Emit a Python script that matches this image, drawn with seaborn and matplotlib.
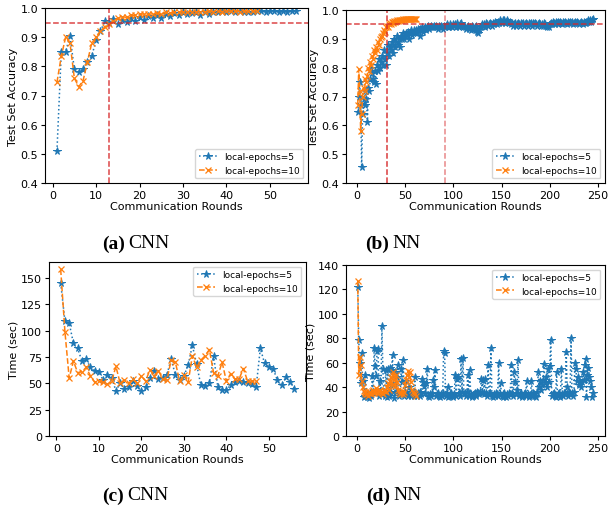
import matplotlib
matplotlib.use("Agg")
import matplotlib.pyplot as plt
import seaborn as sns

plt.rcParams['font.family'] = 'DejaVu Sans'
plt.rcParams['font.size'] = 8

BLUE = '#1f77b4'
ORANGE = '#ff7f0e'
RED = '#d62728'

# ---- (a) CNN accuracy ----
cnn_acc_e5 = [0.51, 0.85, 0.85, 0.905, 0.79, 0.78, 0.79, 0.815, 0.835, 0.89,
              0.92, 0.955, 0.95, 0.962, 0.945, 0.96, 0.953, 0.965, 0.956, 0.97,
              0.958, 0.972, 0.965, 0.975, 0.967, 0.978, 0.972, 0.982, 0.976, 0.985,
              0.98, 0.982, 0.985, 0.975, 0.985, 0.98, 0.987, 0.985, 0.99, 0.988,
              0.99, 0.985, 0.99, 0.985, 0.988, 0.985, 0.99, 0.99, 0.985, 0.99,
              0.99, 0.987, 0.99, 0.988, 0.99, 0.99]
cnn_acc_e10 = [0.745, 0.835, 0.90, 0.88, 0.76, 0.73, 0.75, 0.815, 0.88, 0.90,
               0.92, 0.935, 0.945, 0.955, 0.965, 0.97, 0.968, 0.975, 0.975, 0.978,
               0.98, 0.978, 0.98, 0.982, 0.98, 0.985, 0.983, 0.985, 0.985, 0.987,
               0.986, 0.988, 0.987, 0.988, 0.987, 0.989, 0.988, 0.99, 0.988, 0.99,
               0.989, 0.99, 0.988, 0.99, 0.989, 0.99, 0.99]

# ---- (b) NN accuracy ----
nn_acc_e5 = [0.645, 0.70, 0.75, 0.67, 0.455, 0.64, 0.69, 0.67, 0.72, 0.69,
             0.61, 0.73, 0.72, 0.76, 0.80, 0.78, 0.76, 0.75, 0.79, 0.745,
             0.81, 0.79, 0.83, 0.80, 0.82, 0.84, 0.81, 0.86, 0.83, 0.81,
             0.85, 0.88, 0.84, 0.87, 0.86, 0.89, 0.85, 0.88, 0.90, 0.87,
             0.89, 0.91, 0.88, 0.90, 0.87, 0.91, 0.90, 0.92, 0.90, 0.91,
             0.92, 0.91, 0.925, 0.90, 0.92, 0.93, 0.915, 0.92, 0.93, 0.925,
             0.93, 0.92, 0.935, 0.93, 0.91, 0.935, 0.93, 0.94, 0.925, 0.935,
             0.94, 0.93, 0.94, 0.945, 0.935, 0.94, 0.945, 0.94, 0.94, 0.945,
             0.94, 0.945, 0.94, 0.935, 0.945, 0.94, 0.945, 0.94, 0.935, 0.945,
             0.94, 0.945, 0.95, 0.94, 0.945, 0.94, 0.95, 0.945, 0.94, 0.95,
             0.945, 0.95, 0.94, 0.955, 0.945, 0.94, 0.95, 0.955, 0.945, 0.94,
             0.945, 0.94, 0.935, 0.94, 0.945, 0.935, 0.94, 0.93, 0.945, 0.94,
             0.935, 0.94, 0.945, 0.93, 0.925, 0.92, 0.93, 0.94, 0.945, 0.95,
             0.945, 0.95, 0.94, 0.955, 0.95, 0.945, 0.95, 0.955, 0.95, 0.945,
             0.955, 0.95, 0.96, 0.955, 0.95, 0.96, 0.955, 0.965, 0.96, 0.955,
             0.965, 0.96, 0.965, 0.955, 0.96, 0.965, 0.96, 0.955, 0.96, 0.95,
             0.955, 0.945, 0.95, 0.955, 0.945, 0.95, 0.955, 0.95, 0.945, 0.955,
             0.95, 0.955, 0.945, 0.95, 0.955, 0.95, 0.945, 0.955, 0.95, 0.955,
             0.95, 0.945, 0.955, 0.95, 0.955, 0.95, 0.945, 0.95, 0.955, 0.95,
             0.945, 0.95, 0.945, 0.955, 0.95, 0.945, 0.94, 0.945, 0.94, 0.95,
             0.955, 0.95, 0.96, 0.955, 0.95, 0.96, 0.955, 0.96, 0.95, 0.955,
             0.96, 0.955, 0.95, 0.96, 0.955, 0.96, 0.955, 0.95, 0.96, 0.955,
             0.96, 0.955, 0.96, 0.95, 0.955, 0.96, 0.955, 0.96, 0.955, 0.95,
             0.955, 0.96, 0.955, 0.95, 0.96, 0.955, 0.96, 0.955, 0.96, 0.965,
             0.96, 0.965, 0.96, 0.965, 0.97]
nn_acc_e10 = [0.67, 0.795, 0.72, 0.58, 0.64, 0.70, 0.73, 0.72, 0.76, 0.75,
              0.77, 0.80, 0.79, 0.82, 0.81, 0.84, 0.83, 0.86, 0.85, 0.87,
              0.86, 0.89, 0.88, 0.90, 0.905, 0.91, 0.92, 0.93, 0.925, 0.94,
              0.945, 0.94, 0.95, 0.955, 0.95, 0.96, 0.955, 0.96, 0.962, 0.96,
              0.963, 0.965, 0.962, 0.966, 0.965, 0.967, 0.966, 0.968, 0.967, 0.968,
              0.969, 0.968, 0.97, 0.969, 0.97, 0.969, 0.97, 0.97, 0.969, 0.97, 0.97]

# ---- (c) CNN time ----
cnn_time_e5 = [145, 109, 107, 88, 83, 71, 73, 65, 62, 61,
               53, 58, 55, 43, 50, 45, 46, 52, 47, 43,
               46, 55, 62, 54, 55, 58, 73, 58, 53, 57,
               67, 86, 68, 48, 47, 50, 76, 46, 44, 44,
               48, 51, 52, 51, 50, 49, 46, 83, 69, 65,
               64, 53, 48, 56, 51, 45]
cnn_time_e10 = [158, 99, 55, 71, 60, 61, 65, 57, 51, 52,
                51, 49, 52, 66, 50, 53, 50, 54, 50, 57,
                52, 63, 57, 62, 54, 53, 72, 70, 52, 58,
                51, 76, 65, 72, 76, 82, 60, 57, 70, 52,
                59, 54, 54, 64, 52, 52, 52]

# ---- (d) NN time ----
nn_time_e5 = [122, 79, 60, 43, 68, 45, 32, 33, 50, 33,
              32, 34, 31, 35, 33, 49, 36, 72, 57, 49,
              70, 71, 33, 45, 34, 90, 55, 36, 33, 54,
              32, 55, 33, 56, 35, 54, 66, 42, 31, 52,
              36, 48, 58, 33, 34, 55, 44, 62, 33, 36,
              45, 34, 33, 40, 35, 33, 34, 36, 33, 48,
              34, 33, 35, 34, 36, 33, 34, 47, 44, 41,
              35, 43, 55, 33, 32, 34, 33, 35, 46, 40,
              54, 33, 34, 35, 33, 32, 34, 33, 35, 70,
              68, 33, 34, 40, 32, 33, 34, 35, 33, 32,
              34, 50, 33, 47, 48, 35, 33, 63, 36, 64,
              34, 35, 33, 36, 50, 33, 54, 34, 32, 33,
              34, 35, 33, 34, 36, 35, 34, 36, 47, 35,
              46, 34, 47, 35, 33, 58, 34, 35, 72, 33,
              32, 34, 33, 35, 34, 33, 60, 34, 43, 33,
              32, 34, 35, 33, 32, 34, 33, 35, 34, 58,
              35, 33, 52, 44, 34, 38, 62, 33, 34, 35,
              32, 33, 34, 35, 33, 45, 34, 32, 33, 34,
              45, 33, 35, 34, 33, 32, 36, 52, 40, 45,
              38, 42, 46, 59, 43, 48, 40, 55, 44, 57,
              79, 33, 34, 35, 33, 32, 52, 34, 33, 35,
              32, 55, 34, 33, 35, 34, 69, 40, 33, 36,
              34, 80, 35, 33, 36, 60, 55, 45, 48, 42,
              44, 40, 44, 52, 46, 58, 63, 32, 50, 56,
              48, 45, 40, 32, 35]
nn_time_e10 = [127, 50, 65, 58, 45, 40, 37, 35, 36, 34,
               34, 33, 35, 36, 34, 37, 38, 35, 36, 39,
               36, 35, 37, 38, 36, 35, 34, 37, 38, 36,
               40, 43, 38, 45, 48, 42, 50, 52, 46, 41,
               50, 44, 38, 36, 34, 35, 37, 34, 36, 42,
               46, 50, 53, 48, 52, 44, 38, 36, 35, 34, 33]

LABEL5 = 'local-epochs=5'
LABEL10 = 'local-epochs=10'

W, H = 610, 510
fig = plt.figure(figsize=(W / 100, H / 100), dpi=100)


def make_ax(l, t, r, b):
    return fig.add_axes([l / W, 1 - b / H, (r - l) / W, (b - t) / H])


def draw(ax, y5, y10):
    sns.lineplot(x=list(range(1, len(y5) + 1)), y=y5, ax=ax, color=BLUE,
                 linestyle=':', marker='*', markersize=5.5, mec=BLUE, mew=0.7,
                 lw=1.1, label=LABEL5)
    sns.lineplot(x=list(range(1, len(y10) + 1)), y=y10, ax=ax, color=ORANGE,
                 linestyle='--', marker='x', markersize=4.5, mec=ORANGE, mew=0.9,
                 lw=1.1, label=LABEL10)
    ax.set_xlabel('Communication Rounds', fontsize=8, labelpad=1)
    ax.tick_params(labelsize=8, length=3, pad=2)


ax_a = make_ax(45, 9, 308, 184)
draw(ax_a, cnn_acc_e5, cnn_acc_e10)
ax_a.axhline(0.95, color=RED, ls='--', lw=1.1, alpha=0.85)
ax_a.axvline(13, color=RED, ls='--', lw=1.1, alpha=0.85)
ax_a.set_ylim(0.4, 1.0)
ax_a.set_xticks(range(0, 51, 10))
ax_a.set_ylabel('Test Set Accuracy', fontsize=8, labelpad=2)
ax_a.legend(loc='lower right', fontsize=6.5)

ax_b = make_ax(346, 11, 605, 184)
draw(ax_b, nn_acc_e5, nn_acc_e10)
ax_b.axhline(0.95, color=RED, ls='--', lw=1.1, alpha=0.85)
ax_b.axvline(31, color=RED, ls='--', lw=1.1, alpha=0.9)
ax_b.axvline(91, color=RED, ls='--', lw=1.1, alpha=0.55)
ax_b.set_ylim(0.4, 1.0)
ax_b.set_xticks(range(0, 251, 50))
ax_b.set_ylabel('Test Set Accuracy', fontsize=8, labelpad=2)
ax_b.legend(loc='lower right', fontsize=6.5)

ax_c = make_ax(49, 263, 306, 437)
draw(ax_c, cnn_time_e5, cnn_time_e10)
ax_c.set_ylim(0, 165)
ax_c.set_yticks(range(0, 151, 25))
ax_c.set_xticks(range(0, 51, 10))
ax_c.set_ylabel('Time (sec)', fontsize=8, labelpad=2)
ax_c.legend(loc='upper right', fontsize=6.5)

ax_d = make_ax(346, 266, 605, 437)
draw(ax_d, nn_time_e5, nn_time_e10)
ax_d.set_ylim(0, 140)
ax_d.set_yticks(range(0, 141, 20))
ax_d.set_xticks(range(0, 251, 50))
ax_d.set_ylabel('Time (sec)', fontsize=8, labelpad=2)
ax_d.legend(loc='upper right', fontsize=6.5)

# captions under each panel
captions = [('(a)', 'CNN', 125, 244), ('(b)', 'NN', 389, 244),
            ('(c)', 'CNN', 124, 496), ('(d)', 'NN', 390, 496)]
for tag, name, xc, yc in captions:
    fig.text(xc / W, 1 - yc / H, tag, ha='right', va='center', fontsize=14,
             fontweight='bold', family='Liberation Serif')
    fig.text((xc + 3) / W, 1 - yc / H, name, ha='left', va='center', fontsize=14,
             family='Liberation Serif')

fig.savefig('out.png', dpi=100)
